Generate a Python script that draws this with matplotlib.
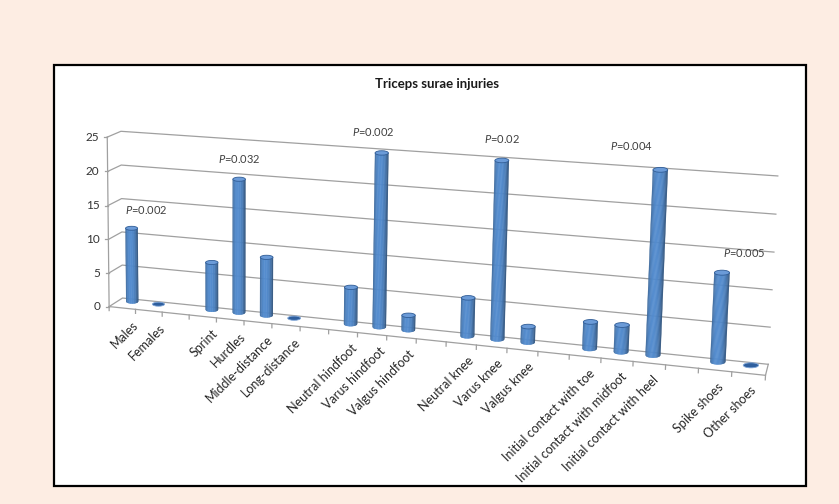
import numpy as np
import matplotlib.pyplot as plt
from matplotlib.patches import Ellipse, Rectangle, Polygon

plt.rcParams['font.family'] = ['Lato', 'DejaVu Sans']
plt.rcParams['mathtext.fontset'] = 'custom'
plt.rcParams['mathtext.it'] = 'Lato:italic'
plt.rcParams['mathtext.rm'] = 'Lato'

# data
categories = ['Males', 'Females',
              'Sprint', 'Hurdles', 'Middle-distance', 'Long-distance',
              'Neutral hindfoot', 'Varus hindfoot', 'Valgus hindfoot',
              'Neutral knee', 'Varus knee', 'Valgus knee',
              'Initial contact with toe', 'Initial contact with midfoot', 'Initial contact with heel',
              'Spike shoes', 'Other shoes']
values = [11, 0,
          7, 19.5, 8.5, 0,
          5.3, 24.7, 2.1,
          5.4, 24.8, 2.2,
          3.7, 3.7, 25,
          12, 0]
group_sizes = [2, 4, 3, 3, 3, 2]
p_labels = {'Males': 'P=0.002', 'Hurdles': 'P=0.032', 'Varus hindfoot': 'P=0.002',
            'Varus knee': 'P=0.02', 'Initial contact with heel': 'P=0.004',
            'Spike shoes': 'P=0.005'}
yticks = [0, 5, 10, 15, 20, 25]

# where the P labels sit relative to their bar (in category slots)
p_shift = {'Males': 0.55, 'Hurdles': 0.0, 'Varus hindfoot': -0.3,
           'Varus knee': 0.0, 'Initial contact with heel': -0.9, 'Spike shoes': 0.65}

# one empty slot between groups
slots = []
pos = 0
for n in group_sizes:
    slots.extend(range(pos, pos + n))
    pos += n + 1
n_slots = pos - 1
x0, x1 = -0.5, n_slots - 0.5
bar_depth = 0.25
radius = 0.23

# perspective camera: (slot, depth, value) -> pixel, fitted on the box corners
W, H = 839, 504
world = [(x0, 0, 0), (x0, 0, 25), (x1, 0, 0), (x1, 0, 25),
         (x0, 1, 0), (x0, 1, 25), (x1, 1, 0),
         (0, bar_depth, 0), (4, bar_depth, 0), (9, bar_depth, 0),
         (13, bar_depth, 0), (18, bar_depth, 0), (21, bar_depth, 0)]
image = [(121, 300), (120, 134), (768, 364), (778, 173),
         (108, 305), (108, 137), (765, 378),
         (134, 300), (237, 311), (384, 326),
         (497, 339), (654, 355), (749, 367)]
rows = []
for (X, Y, Z), (u, v) in zip(world, image):
    p = [X, Y, Z, 1.0]
    u, v = u / 100, v / 100
    rows.append(p + [0] * 4 + [-u * c for c in p])
    rows.append([0] * 4 + p + [-v * c for c in p])
cam = np.linalg.svd(np.array(rows))[2][-1].reshape(3, 4)


def project(x, d, z):
    x, d, z = np.broadcast_arrays(np.atleast_1d(x), np.atleast_1d(d), np.atleast_1d(z))
    h = cam @ np.vstack([x.ravel(), d.ravel(), z.ravel(), np.ones(x.size)])
    return h[0] / h[2] * 100, h[1] / h[2] * 100


fig = plt.figure(figsize=(W / 100, H / 100), dpi=100, facecolor='#fdede3')
ax = fig.add_axes([0, 0, 1, 1])
ax.set_xlim(0, W)
ax.set_ylim(H, 0)
ax.axis('off')

ax.add_patch(Rectangle((54, 65), 752, 421, facecolor='white', edgecolor='black', lw=1.6, zorder=0))
ax.text(437, 84, 'Triceps surae injuries', ha='center', va='center',
        fontsize=9.5, fontweight='bold', color='#1a1a1a')

grid_kw = dict(color='#a0a0a0', lw=0.9, zorder=1)
for v in yticks:
    gx, gy = project([x0, x0, x1], [1, 0, 0], v)
    ax.plot(gx, gy, **grid_kw)
    tx, ty = project(x0, 1, v)
    ax.plot([tx[0] - 3, tx[0]], [ty[0], ty[0]], **grid_kw)
    ax.annotate(str(v), (tx[0], ty[0]), xytext=(-6, 0), textcoords='offset points',
                ha='right', va='center', fontsize=8.5, color='#333333')

# floor outline, axis line and category ticks
fx, fy = project([x0, x1, x1], [1, 1, 0], 0)
ax.plot(fx, fy, **grid_kw)
ax.plot(*project(x0, 1, [0, 25]), **grid_kw)
for k in range(n_slots + 1):
    ax.plot(*project(x0 + k, 1, [0, -0.6]), **grid_kw)

base_rgb = np.array([0.29, 0.494, 0.733])
n_strips = 18
for cat, s, v in zip(categories, slots, values):
    bx, by = project(s, bar_depth, 0)
    tx, ty = project(s, bar_depth, v)
    ex, _ = project(s + radius, bar_depth, 0)
    bx, by, tx, ty = bx[0], by[0], tx[0], ty[0]
    w = ex[0] - bx
    eh = 0.33 * w
    if v == 0:
        ax.add_patch(Ellipse((bx, by), 2 * w, 2 * eh, facecolor='#2f5f9e',
                             edgecolor='#7fa6d8', lw=0.6, zorder=3))
    else:
        t = np.linspace(-1, 1, n_strips + 1)
        for a, b in zip(t[:-1], t[1:]):
            m = 0.5 * (a + b)
            shade = 0.6 + 0.5 * np.sqrt(1 - m ** 2) - 0.08 * m
            col = np.clip(base_rgb * shade, 0, 1)
            arc_a = eh * np.sqrt(max(0.0, 1 - a ** 2))
            arc_b = eh * np.sqrt(max(0.0, 1 - b ** 2))
            quad = [(bx + a * w, by + arc_a), (bx + b * w, by + arc_b),
                    (tx + b * w, ty + arc_b), (tx + a * w, ty + arc_a)]
            ax.add_patch(Polygon(quad, closed=True, facecolor=col, edgecolor=col,
                                 lw=0.3, zorder=3))
        ax.add_patch(Ellipse((tx, ty), 2 * w, 2 * eh, facecolor='#6b9bd8',
                             edgecolor='#2f5c96', lw=0.6, zorder=4))
    lx, ly = project(s, bar_depth, -2.6)
    ax.text(lx[0], ly[0], cat, rotation=45, rotation_mode='anchor', ha='right', va='top',
            fontsize=9, color='#262626', zorder=5)
    if cat in p_labels:
        px, py = project(s + p_shift[cat], bar_depth, v + 2.9)
        ax.text(px[0], py[0], p_labels[cat].replace('P', r'$P$', 1), ha='center', va='center',
                fontsize=8, color='#404040', zorder=5)

fig.savefig('out.png', dpi=100, facecolor=fig.get_facecolor())
